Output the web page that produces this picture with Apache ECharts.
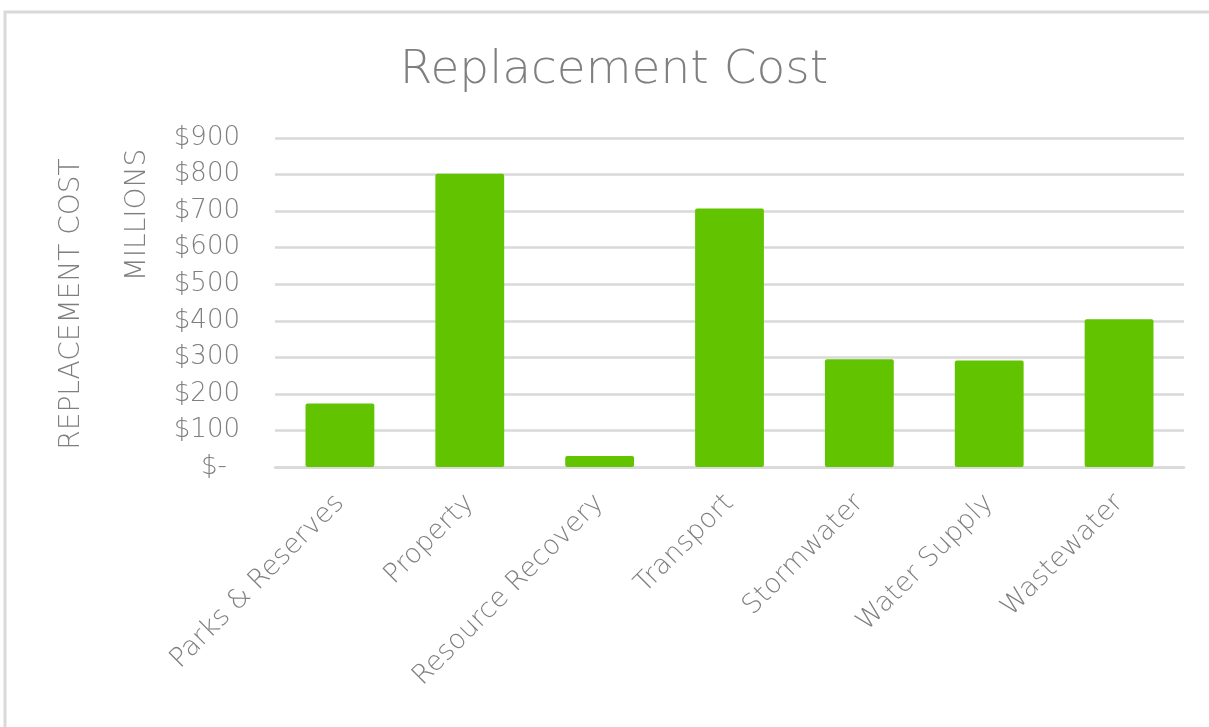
<!DOCTYPE html>
<html>
<head>
<meta charset="utf-8">
<script src="https://cdn.jsdelivr.net/npm/echarts@6/dist/echarts.min.js"></script>
<style>
html,body{margin:0;padding:0;background:#fff;}
#chart{width:1209px;height:727px;}
</style>
</head>
<body>
<div id="chart"></div>
<script>
const categories = ['Parks & Reserves','Property','Resource Recovery','Transport','Stormwater','Water Supply','Wastewater'];
const replacementCost = [174, 802, 30, 707, 295, 291, 404];
const yTickLabels = ['$-','$100','$200','$300','$400','$500','$600','$700','$800','$900'];

const FONT = "'DejaVu Sans', sans-serif";
const W = 200;
const GREY = '#7f7f7f';
const chart = echarts.init(document.getElementById('chart'));
chart.setOption({
  animation: false,
  backgroundColor: '#fff',
  title: {
    text: 'Replacement Cost',
    left: 609, top: 42, textAlign: 'center',
    textStyle: { fontFamily: FONT, fontWeight: W, fontSize: 47, color: GREY }
  },
  grid: { left: 275, right: 25, top: 138, bottom: 260 },
  xAxis: {
    type: 'category',
    data: categories,
    axisLine: { lineStyle: { color: '#d9d9d9', width: 2.5 } },
    axisTick: { show: false },
    axisLabel: { rotate: 45, margin: 32, fontFamily: FONT, fontWeight: W, fontSize: 27, color: GREY, interval: 0 }
  },
  yAxis: {
    type: 'value', min: 0, max: 900, interval: 100,
    axisLine: { show: false }, axisTick: { show: false },
    splitLine: { lineStyle: { color: '#d9d9d9', width: 2.5 } },
    axisLabel: {
      margin: 35, fontFamily: FONT, fontWeight: W, fontSize: 26, color: GREY,
      formatter: v => { const s = yTickLabels[Math.round(v/100)]; return v === 0 ? '{d|' + s + '}' : s; },
      rich: { d: { fontFamily: FONT, fontWeight: W, fontSize: 26, color: GREY, padding: [0, 13, 0, 0] } }
    }
  },
  series: [{
    type: 'bar',
    data: replacementCost,
    barCategoryGap: '47%',
    itemStyle: { color: '#62c400', borderRadius: 2 }
  }],
  graphic: [
    { type: 'rect', shape: { x: 5, y: 12, width: 1260, height: 780 }, style: { fill: 'none', stroke: '#d9d9d9', lineWidth: 3 }, z: -1 },
    { type: 'text', x: 72, y: 304, rotation: Math.PI/2,
      style: { text: 'REPLACEMENT COST', fontFamily: FONT, fontWeight: W, fontSize: 28, fill: GREY, textAlign: 'center', textVerticalAlign: 'middle' } },
    { type: 'text', x: 138, y: 215, rotation: Math.PI/2,
      style: { text: 'MILLIONS', fontFamily: FONT, fontWeight: W, fontSize: 28, fill: GREY, textAlign: 'center', textVerticalAlign: 'middle' } }
  ]
});
</script>
</body>
</html>
